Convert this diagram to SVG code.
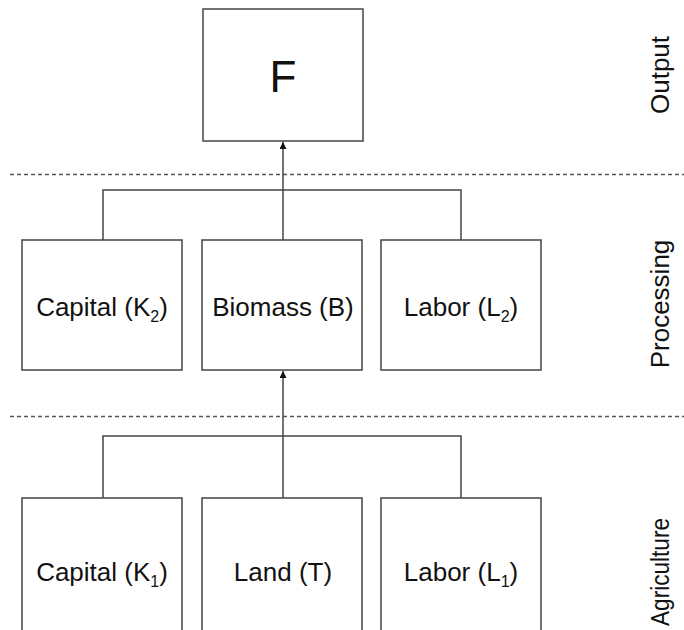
<svg xmlns="http://www.w3.org/2000/svg" width="684" height="630" viewBox="0 0 684 630">
<style>
.box{fill:#fff;stroke:#444;stroke-width:1.5}
.lbl{font-family:"Liberation Sans",Arial,sans-serif;font-size:26px;fill:#111;text-anchor:middle}
.sub{font-size:16px}
.side{font-family:"Liberation Sans",Arial,sans-serif;font-size:26px;fill:#111;text-anchor:middle}
.con{fill:none;stroke:#444;stroke-width:1.5}
.dash{stroke:#555;stroke-width:1.3;stroke-dasharray:4 3}
</style>
<defs>
<marker id="arr" viewBox="0 0 10 10" refX="10" refY="5" markerWidth="7" markerHeight="7" markerUnits="userSpaceOnUse" orient="auto"><path d="M0,0 L10,5 L0,10 z" fill="#111"/></marker>
</defs>
<rect width="684" height="630" fill="#fff"/>
<g id="separators">
<line class="dash" x1="10" y1="174.5" x2="684" y2="174.5"/>
<line class="dash" x1="10" y1="416.5" x2="684" y2="416.5"/>
</g>
<g id="connectors">
<path class="con" d="M103,240 V190 H461 V240"/>
<path class="con" d="M283,240 V142" marker-end="url(#arr)"/>
<path class="con" d="M103,498 V436 H461 V498"/>
<path class="con" d="M283,498 V371" marker-end="url(#arr)"/>
</g>
<g id="F">
<rect class="box" x="203" y="9" width="160" height="132"/>
<text class="lbl" x="283" y="92" style="font-size:44px">F</text>
</g>
<g id="capital2">
<rect class="box" x="22" y="240" width="160" height="130"/>
<text class="lbl" x="102" y="316">Capital (K<tspan class="sub" dy="6">2</tspan><tspan dy="-6">)</tspan></text>
</g>
<g id="biomass">
<rect class="box" x="202" y="240" width="160" height="130"/>
<text class="lbl" x="283" y="316">Biomass (B)</text>
</g>
<g id="labor2">
<rect class="box" x="381" y="240" width="160" height="130"/>
<text class="lbl" x="461" y="316">Labor (L<tspan class="sub" dy="6">2</tspan><tspan dy="-6">)</tspan></text>
</g>
<g id="capital1">
<rect class="box" x="22" y="498" width="160" height="140"/>
<text class="lbl" x="102" y="581">Capital (K<tspan class="sub" dy="6">1</tspan><tspan dy="-6">)</tspan></text>
</g>
<g id="land">
<rect class="box" x="202" y="498" width="160" height="140"/>
<text class="lbl" x="283" y="581">Land (T)</text>
</g>
<g id="labor1">
<rect class="box" x="381" y="498" width="160" height="140"/>
<text class="lbl" x="461" y="581">Labor (L<tspan class="sub" dy="6">1</tspan><tspan dy="-6">)</tspan></text>
</g>
<g id="side-labels">
<text class="side" transform="translate(669,75) rotate(-90)">Output</text>
<text class="side" transform="translate(669,304) rotate(-90)">Processing</text>
<text class="side" transform="translate(669,572) rotate(-90)" textLength="108" lengthAdjust="spacingAndGlyphs">Agriculture</text>
</g>
</svg>
